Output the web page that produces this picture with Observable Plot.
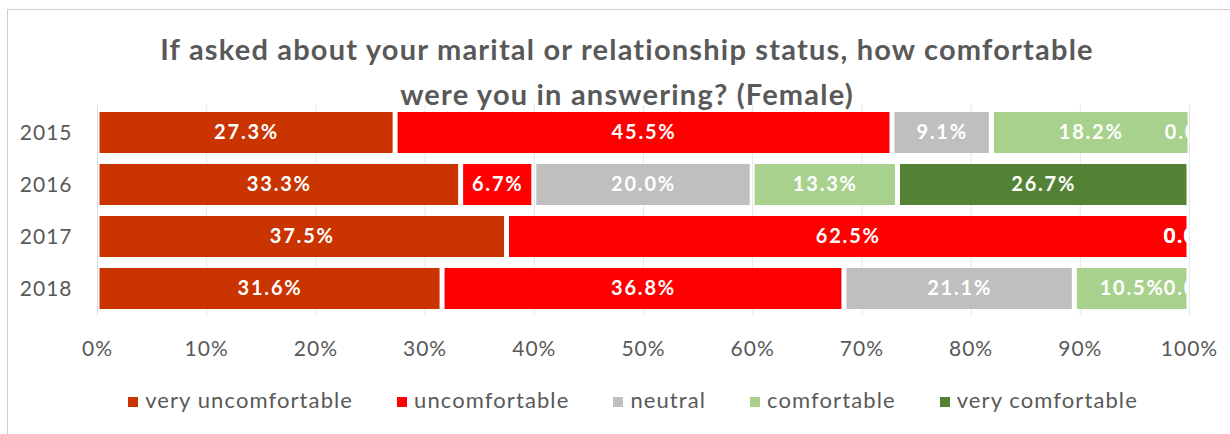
<!DOCTYPE html>
<html>
<head>
<meta charset="utf-8">
<script src="https://cdn.jsdelivr.net/npm/d3@7"></script>
<script src="https://cdn.jsdelivr.net/npm/@observablehq/plot@0.6"></script>
<style>
  html, body { margin: 0; padding: 0; background: #fff; }
  body { width: 1230px; height: 434px; position: relative; overflow: hidden; font-family: Lato, "Open Sans", sans-serif; }
  #frame { position: absolute; left: 7px; top: 9px; width: 1300px; height: 500px; border-top: 1.5px solid #cfcfcf; border-left: 1.5px solid #cfcfcf; }
  #title { position: absolute; left: 0; top: 26px; width: 1254px; text-align: center; font-weight: 700; font-size: 29px; letter-spacing: 1.2px; line-height: 45px; color: #595959; }
  #chart { position: absolute; left: 0; top: 100px; }
  #legend { position: absolute; left: 0; top: 386px; width: 1266px; display: flex; justify-content: center; gap: 44px; font-size: 22px; letter-spacing: 1.1px; color: #595959; }
  #legend .item { display: flex; align-items: center; }
  #legend .sw { width: 10px; height: 10px; margin-right: 7px; margin-top: 4px; }
  #chart svg text { letter-spacing: 1px; }
  #chart svg g.labels text { letter-spacing: 1.8px; }
</style>
</head>
<body>
<div id="frame"></div>
<div id="title">If asked about your marital or relationship status, how comfortable<br>were you in answering? (Female)</div>
<div id="chart"></div>
<div id="legend"></div>
<script>
const years = ["2015", "2016", "2017", "2018"];
const categories = ["very uncomfortable", "uncomfortable", "neutral", "comfortable", "very comfortable"];
const colors = ["#C93400", "#FF0000", "#BFBFBF", "#A9D18E", "#548235"];
const values2015 = [27.3, 45.5, 9.1, 18.2, 0.0];
const values2016 = [33.3, 6.7, 20.0, 13.3, 26.7];
const values2017 = [37.5, 62.5, 0.0, 0.0, 0.0];
const values2018 = [31.6, 36.8, 21.1, 10.5, 0.0];
const xTicks = [0, 10, 20, 30, 40, 50, 60, 70, 80, 90, 100];
const xTickLabels = ["0%", "10%", "20%", "30%", "40%", "50%", "60%", "70%", "80%", "90%", "100%"];

const seriesByYear = [values2015, values2016, values2017, values2018];
const rows = [];
years.forEach((y, i) => {
  categories.forEach((c, j) => {
    rows.push({year: y, cat: c, value: seriesByYear[i][j]});
  });
});

const plot = Plot.plot({
  width: 1230,
  height: 270,
  marginLeft: 97,
  marginRight: 41,
  marginTop: 5,
  marginBottom: 55,
  style: {fontFamily: "Lato, 'Open Sans', sans-serif", background: "transparent"},
  x: {domain: [0, 100], axis: null, label: null},
  y: {domain: years, paddingInner: 0.22, paddingOuter: 0.11, axis: null, label: null},
  color: {domain: categories, range: colors},
  marks: [
    Plot.gridX(xTicks, {stroke: "#e6e6e6", strokeOpacity: 1}),
    Plot.ruleX([0], {stroke: "#d6dce4", strokeWidth: 1}),
    Plot.barX(rows, Plot.stackX({x: "value", y: "year", fill: "cat", insetLeft: 2.5, insetRight: 2.5, clip: true})),
    Plot.text(rows, Plot.stackX({
      x: "value", y: "year",
      text: d => d.value.toFixed(1) + "%",
      fill: "white", fontWeight: "bold", fontSize: 20, clip: true, className: "labels"
    })),
    Plot.axisX(xTicks, {tickFormat: (d, i) => xTickLabels[i], tickSize: 0, tickPadding: 26, fontSize: 21, fill: "#595959", label: null}),
    Plot.axisY({tickSize: 0, tickPadding: 25, fontSize: 21, fill: "#595959", label: null})
  ]
});
document.getElementById("chart").appendChild(plot);

const legend = d3.select("#legend");
categories.forEach((c, i) => {
  const item = legend.append("div").attr("class", "item");
  item.append("div").attr("class", "sw").style("background", colors[i]);
  item.append("span").text(c);
});
</script>
</body>
</html>
